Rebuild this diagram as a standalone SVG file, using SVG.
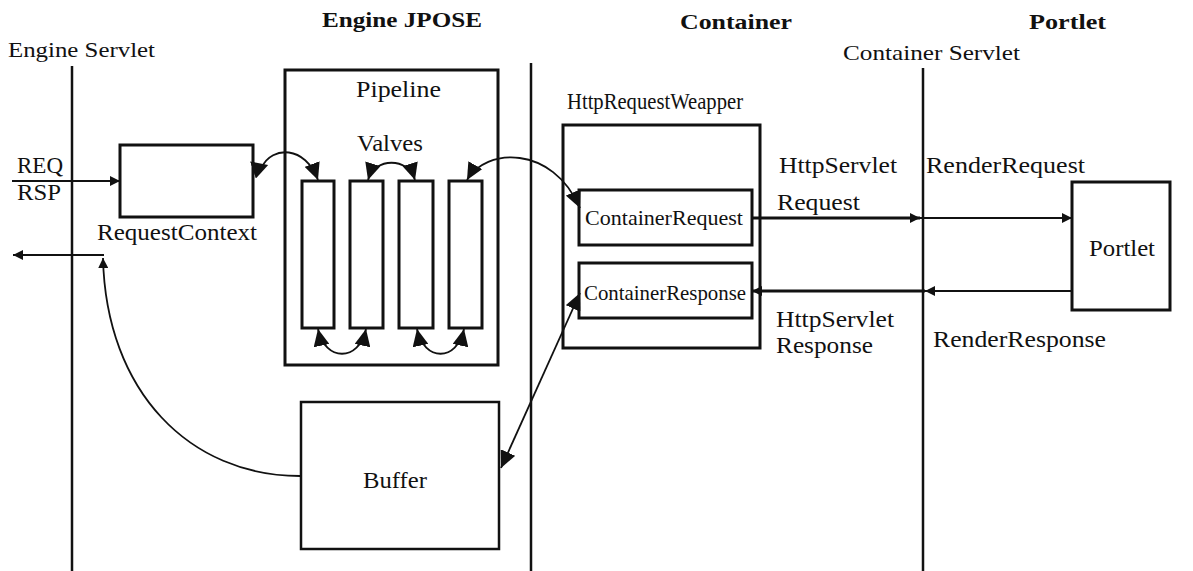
<svg xmlns="http://www.w3.org/2000/svg" width="1193" height="571" viewBox="0 0 1193 571">
  <style>
    text { font-family: "Liberation Serif", "Times New Roman", serif; fill: #111; }
    .title { font-weight: bold; font-size: 22px; }
    .lbl { font-size: 23px; }
    .sm { font-size: 22px; }
    .lane { stroke: #111; stroke-width: 2.5; fill: none; }
    .box { stroke: #111; stroke-width: 3; fill: #fff; }
    .thin { stroke: #111; stroke-width: 2.5; fill: #fff; }
    .arc { stroke: #111; stroke-width: 1.8; fill: none; }
    .bus { stroke: #111; stroke-width: 3.2; fill: none; }
    .wire { stroke: #111; stroke-width: 2.2; fill: none; }
  </style>
  <defs>
    <marker id="head" markerUnits="userSpaceOnUse" markerWidth="18" markerHeight="16" refX="17" refY="8" orient="auto-start-reverse">
      <path d="M0,0 L17,8 L0,16 z" fill="#111"/>
    </marker>
    <marker id="tail" markerUnits="userSpaceOnUse" markerWidth="18" markerHeight="18" refX="0" refY="9" orient="auto">
      <path d="M0,0 L16,9 L0,18 z" fill="#111"/>
    </marker>
    <marker id="dot" markerUnits="userSpaceOnUse" markerWidth="12" markerHeight="10" refX="10" refY="5" orient="auto-start-reverse">
      <path d="M0,0 L10,5 L0,10 z" fill="#111"/>
    </marker>
  </defs>

  <!-- column headings -->
  <text class="title" x="322" y="27" textLength="160" lengthAdjust="spacingAndGlyphs">Engine JPOSE</text>
  <text class="title" x="680" y="29" textLength="112" lengthAdjust="spacingAndGlyphs">Container</text>
  <text class="title" x="1029" y="29" textLength="77" lengthAdjust="spacingAndGlyphs">Portlet</text>
  <text class="sm" x="8" y="57" textLength="147" lengthAdjust="spacingAndGlyphs">Engine Servlet</text>
  <text class="sm" x="843" y="60" textLength="177" lengthAdjust="spacingAndGlyphs">Container Servlet</text>

  <!-- swimlane separators -->
  <g id="lanes">
    <line class="lane" x1="72" y1="66" x2="72" y2="571"/>
    <line class="lane" x1="531" y1="63" x2="531" y2="571"/>
    <line class="lane" x1="923" y1="68" x2="923" y2="571"/>
  </g>

  <g id="request-context">
    <rect class="box" x="120" y="145" width="133" height="72"/>
    <text class="lbl" x="97" y="240" textLength="160" lengthAdjust="spacingAndGlyphs">RequestContext</text>
  </g>

  <g id="pipeline">
    <rect class="box" x="285" y="70" width="213" height="295"/>
    <text class="lbl" x="356" y="97" textLength="85" lengthAdjust="spacingAndGlyphs">Pipeline</text>
    <text class="lbl" x="357" y="151" textLength="66" lengthAdjust="spacingAndGlyphs">Valves</text>
  </g>
  <g id="valve-1"><rect class="box" x="302" y="181" width="32" height="147"/></g>
  <g id="valve-2"><rect class="box" x="350" y="181" width="33" height="147"/></g>
  <g id="valve-3"><rect class="box" x="399" y="181" width="34" height="147"/></g>
  <g id="valve-4"><rect class="box" x="449" y="181" width="33" height="147"/></g>

  <g id="buffer">
    <rect class="thin" x="301" y="402" width="198" height="147"/>
    <text class="lbl" x="363" y="488" textLength="64" lengthAdjust="spacingAndGlyphs">Buffer</text>
  </g>

  <g id="http-request-wrapper">
    <text class="lbl" x="567" y="109" textLength="176" lengthAdjust="spacingAndGlyphs">HttpRequestWeapper</text>
    <rect class="box" x="563" y="125" width="197" height="223"/>
  </g>
  <g id="container-request">
    <rect class="box" x="579" y="190" width="173" height="55"/>
    <text class="sm" x="585" y="225" textLength="158" lengthAdjust="spacingAndGlyphs">ContainerRequest</text>
  </g>
  <g id="container-response">
    <rect class="box" x="579" y="263" width="173" height="55"/>
    <text class="sm" x="584" y="300" textLength="162" lengthAdjust="spacingAndGlyphs">ContainerResponse</text>
  </g>

  <g id="portlet">
    <rect class="box" x="1072" y="182" width="98" height="128"/>
    <text class="lbl" x="1089" y="256" textLength="66" lengthAdjust="spacingAndGlyphs">Portlet</text>
  </g>

  <!-- message labels -->
  <g id="labels">
    <text class="lbl" x="17" y="173" textLength="46" lengthAdjust="spacingAndGlyphs">REQ</text>
    <text class="lbl" x="17" y="200" textLength="44" lengthAdjust="spacingAndGlyphs">RSP</text>
    <text class="lbl" x="779" y="173" textLength="118" lengthAdjust="spacingAndGlyphs">HttpServlet</text>
    <text class="lbl" x="777" y="210" textLength="83" lengthAdjust="spacingAndGlyphs">Request</text>
    <text class="lbl" x="926" y="173" textLength="159" lengthAdjust="spacingAndGlyphs">RenderRequest</text>
    <text class="lbl" x="776" y="327" textLength="118" lengthAdjust="spacingAndGlyphs">HttpServlet</text>
    <text class="lbl" x="776" y="353" textLength="97" lengthAdjust="spacingAndGlyphs">Response</text>
    <text class="lbl" x="933" y="347" textLength="173" lengthAdjust="spacingAndGlyphs">RenderResponse</text>
  </g>

  <g id="connectors">
    <!-- incoming request -->
    <path class="wire" d="M12,181 L120,181" marker-end="url(#dot)"/>
    <!-- context into first valve -->
    <path class="arc" d="M253,170 L262,167 C272,146 305,145 318,180" marker-start="url(#tail)" marker-end="url(#head)"/>
    <!-- valve chain -->
    <path class="arc" d="M368,180 C375,157 408,157 415,180" marker-start="url(#head)" marker-end="url(#head)"/>
    <path class="arc" d="M318,329 C325,362 359,362 366,329" marker-start="url(#head)" marker-end="url(#head)"/>
    <path class="arc" d="M417,329 C424,362 457,362 464,329" marker-start="url(#head)" marker-end="url(#head)"/>
    <!-- last valve to container request -->
    <path class="arc" d="M467,180 C485,148 552,144 580,208" marker-start="url(#head)" marker-end="url(#head)"/>
    <!-- request to portlet -->
    <path class="bus" d="M752,218 L920,218" marker-end="url(#dot)"/>
    <path class="wire" d="M920,218 L1072,218" marker-end="url(#dot)"/>
    <!-- response from portlet -->
    <path class="wire" d="M1073,291 L925,291" marker-end="url(#dot)"/>
    <path class="bus" d="M925,291 L752,291" marker-end="url(#dot)"/>
    <!-- response into buffer -->
    <path class="arc" d="M580,293 L501,468" marker-start="url(#head)" marker-end="url(#head)"/>
    <!-- buffer back out -->
    <path class="arc" d="M300,476 C190,476 106,392 103,258" marker-end="url(#dot)"/>
    <path class="wire" d="M104,255 L13,255" marker-end="url(#dot)"/>
  </g>
</svg>
